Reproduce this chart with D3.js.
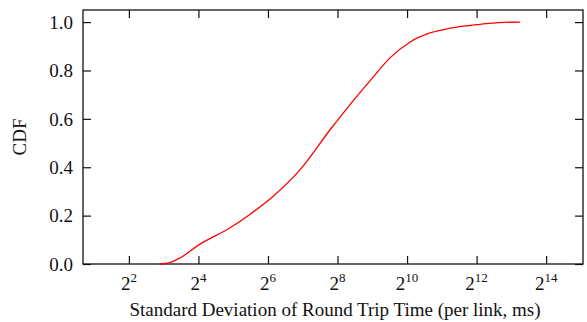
<!DOCTYPE html>
<html>
<head>
<meta charset="utf-8">
<script src="https://cdn.jsdelivr.net/npm/d3@7"></script>
<style>
  body { margin: 0; background: #fff; }
  svg text { font-family: "Liberation Serif", "DejaVu Serif", serif; fill: #111; }
</style>
</head>
<body>
<svg id="chart" width="587" height="322"></svg>
<script>
// set the dimensions and margins of the graph
var margin = {top: 10, right: 4, bottom: 58, left: 83},
    width = 587 - margin.left - margin.right,
    height = 322 - margin.top - margin.bottom;

// std dev of RTT (ms) and CDF value
var stdDev = [7.4, 9.1, 11.1, 15.9, 30.1, 44.6, 71, 121, 220, 326,
              491, 729, 1090, 1618, 2419, 4390, 6985, 9741];
var cdf    = [0.0, 0.006, 0.025, 0.077, 0.15, 0.205, 0.28, 0.389, 0.554, 0.657,
              0.758, 0.852, 0.918, 0.955, 0.975, 0.991, 0.999, 1.0];
var xTickExp = [2, 4, 6, 8, 10, 12, 14];
var yTicks = [0, 0.2, 0.4, 0.6, 0.8, 1.0];

var svg = d3.select("#chart")
  .append("g")
    .attr("transform", "translate(" + margin.left + "," + margin.top + ")");

var x = d3.scaleLog().base(2)
    .domain([Math.pow(2, 0.68), Math.pow(2, 15.06)])
    .range([0, width]);

var y = d3.scaleLinear()
    .domain([0, 1.05])
    .range([height, 0]);

var tickLen = 8;

// ticks on all four sides, pointing inward
var xTickVals = xTickExp.map(function(e) { return Math.pow(2, e); });

svg.append("g")
    .attr("transform", "translate(0," + height + ")")
    .call(d3.axisBottom(x).tickValues(xTickVals).tickSize(-tickLen).tickFormat(""))
    .call(function(g) { g.select(".domain").remove(); });

svg.append("g")
    .call(d3.axisTop(x).tickValues(xTickVals).tickSize(-tickLen).tickFormat(""))
    .call(function(g) { g.select(".domain").remove(); });

svg.append("g")
    .call(d3.axisLeft(y).tickValues(yTicks).tickSize(-tickLen).tickFormat(""))
    .call(function(g) { g.select(".domain").remove(); });

svg.append("g")
    .attr("transform", "translate(" + width + ",0)")
    .call(d3.axisRight(y).tickValues(yTicks).tickSize(-tickLen).tickFormat(""))
    .call(function(g) { g.select(".domain").remove(); });

svg.selectAll(".tick line")
    .attr("stroke", "#111")
    .attr("stroke-width", 1.2);

// y tick labels
svg.selectAll(".ylab")
    .data(yTicks)
  .enter().append("text")
    .attr("class", "ylab")
    .attr("x", -10)
    .attr("y", function(d) { return y(d); })
    .attr("dy", "0.35em")
    .attr("text-anchor", "end")
    .attr("font-size", "19px")
    .text(function(d) { return d3.format(".1f")(d); });

// x tick labels as 2^n
var xl = svg.selectAll(".xlab")
    .data(xTickExp)
  .enter().append("text")
    .attr("class", "xlab")
    .attr("x", function(d) { return x(Math.pow(2, d)); })
    .attr("y", height + 26)
    .attr("text-anchor", "middle")
    .attr("font-size", "19px");
xl.append("tspan").text("2");
xl.append("tspan")
    .attr("dy", "-8")
    .attr("font-size", "13px")
    .text(function(d) { return d; });

// frame
svg.append("rect")
    .attr("width", width)
    .attr("height", height)
    .attr("fill", "none")
    .attr("stroke", "#111")
    .attr("stroke-width", 1.3);

// the CDF curve
var line = d3.line()
    .x(function(d, i) { return x(stdDev[i]); })
    .y(function(d) { return y(d); })
    .curve(d3.curveMonotoneX);

svg.append("path")
    .datum(cdf)
    .attr("fill", "none")
    .attr("stroke", "#ff0000")
    .attr("stroke-width", 1.3)
    .attr("d", line);

// axis titles
svg.append("text")
    .attr("x", width / 2 + 2)
    .attr("y", height + 52)
    .attr("text-anchor", "middle")
    .attr("font-size", "19px")
    .text("Standard Deviation of Round Trip Time (per link, ms)");

svg.append("text")
    .attr("transform", "translate(" + (-57) + "," + (height / 2) + ") rotate(-90)")
    .attr("text-anchor", "middle")
    .attr("font-size", "19px")
    .text("CDF");
</script>
</body>
</html>
